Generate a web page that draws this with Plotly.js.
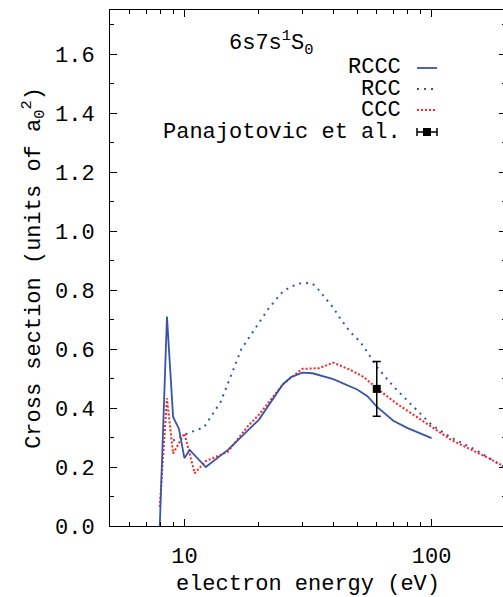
<!DOCTYPE html>
<html>
<head>
<meta charset="utf-8">
<script src="https://cdn.plot.ly/plotly-3.0.1.min.js"></script>
<style>
html,body{margin:0;padding:0;overflow:hidden;background:#fff;}
#chart{width:506px;height:597px;}
</style>
</head>
<body>
<div id="chart"></div>
<script>
// RCCC (solid blue)
const rcccE = [7.95, 8.5, 9.0, 9.5, 10.0, 10.5, 12.2, 15, 20, 25, 27, 30, 33, 40, 50, 55, 60, 70, 80, 100];
const rcccV = [0.0, 0.71, 0.37, 0.33, 0.23, 0.258, 0.20, 0.258, 0.36, 0.48, 0.505, 0.52, 0.518, 0.498, 0.463, 0.44, 0.405, 0.357, 0.332, 0.298];
// RCC (dotted blue)
const rccE = [9, 10, 12, 14, 17, 20, 22, 25, 27, 30, 33, 35, 40, 43, 47, 50, 53, 60, 70, 80, 100, 120, 150, 200];
const rccV = [0.29, 0.31, 0.335, 0.42, 0.60, 0.69, 0.74, 0.795, 0.812, 0.825, 0.822, 0.80, 0.74, 0.70, 0.657, 0.635, 0.61, 0.54, 0.474, 0.424, 0.343, 0.30, 0.259, 0.196];
// CCC (dotted red)
const cccE = [7.95, 8.5, 9.0, 10.0, 11.0, 12.2, 15, 18, 20, 25, 30, 35, 40, 47, 53, 60, 72, 100, 120, 170, 200];
const cccV = [0.065, 0.433, 0.246, 0.314, 0.179, 0.22, 0.252, 0.337, 0.377, 0.48, 0.533, 0.535, 0.554, 0.529, 0.506, 0.467, 0.416, 0.337, 0.292, 0.23, 0.198];
// Panajotovic et al. measurement
const expE = [60];
const expV = [0.465];
const expErr = [0.093];

const xTickVals = [10, 100];
const xTickText = ['10', '100'];
const xMinorVals = [5, 6, 7, 8, 9, 20, 30, 40, 50, 60, 70, 80, 90, 200];
const legendNames = ['RCCC', 'RCC', 'CCC', 'Panajotovic et al.'];

const blue = '#3855aa';
const red = '#ff2020';
const font = 'Liberation Mono, Courier New, monospace';
const fs = 22;

const traces = [
  {x: rccE, y: rccV, mode: 'lines', line: {color: blue, width: 2, dash: '2px,5px'}, showlegend: false},
  {x: cccE, y: cccV, mode: 'lines', line: {color: red, width: 2, dash: '2px,2px'}, showlegend: false},
  {x: rcccE, y: rcccV, mode: 'lines', line: {color: blue, width: 1.8}, showlegend: false},
  {x: expE, y: expV, mode: 'markers', marker: {color: '#000', size: 8, symbol: 'square'},
   error_y: {type: 'data', array: expErr, visible: true, color: '#000', thickness: 1.5, width: 4}, showlegend: false}
];

// legend geometry (pixels -> paper)
const L = 110, W = 396, B = 526, H = 516;
const px = v => (v - L) / W;
const py = v => (B - v) / H;
const rowsY = [68, 89, 110, 132];
const annotations = [
  {text: '6s7s<sup>1</sup>S<sub>0</sub>', xref: 'paper', yref: 'paper', x: px(227), y: py(43),
   xanchor: 'left', yanchor: 'middle', showarrow: false, font: {family: font, size: fs, color: '#000'}}
];
legendNames.forEach((n, i) => {
  annotations.push({text: n, xref: 'paper', yref: 'paper', x: px(403), y: py(rowsY[i]),
    xanchor: 'right', yanchor: 'middle', showarrow: false, font: {family: font, size: fs, color: '#000'}});
});
const shapes = [
  {type: 'line', xref: 'paper', yref: 'paper', x0: px(417), x1: px(437), y0: py(rowsY[0]), y1: py(rowsY[0]), line: {color: blue, width: 1.8}},
  {type: 'line', xref: 'paper', yref: 'paper', x0: px(417), x1: px(437), y0: py(rowsY[1]), y1: py(rowsY[1]), line: {color: blue, width: 2, dash: '2px,5px'}},
  {type: 'line', xref: 'paper', yref: 'paper', x0: px(417), x1: px(437), y0: py(rowsY[2]), y1: py(rowsY[2]), line: {color: red, width: 2, dash: '2px,2px'}},
  {type: 'line', xref: 'paper', yref: 'paper', x0: px(417), x1: px(437), y0: py(rowsY[3]), y1: py(rowsY[3]), line: {color: '#000', width: 1.5}},
  {type: 'line', xref: 'paper', yref: 'paper', x0: px(417), x1: px(417), y0: py(rowsY[3] - 4), y1: py(rowsY[3] + 4), line: {color: '#000', width: 1.5}},
  {type: 'line', xref: 'paper', yref: 'paper', x0: px(437), x1: px(437), y0: py(rowsY[3] - 4), y1: py(rowsY[3] + 4), line: {color: '#000', width: 1.5}},
  {type: 'rect', xref: 'paper', yref: 'paper', x0: px(423), x1: px(431), y0: py(rowsY[3] - 4), y1: py(rowsY[3] + 4), fillcolor: '#000', line: {width: 0}}
];

const layout = {
  width: 506, height: 597,
  margin: {l: 110, r: 0, t: 10, b: 71},
  paper_bgcolor: '#fff', plot_bgcolor: '#fff',
  font: {family: font, size: fs, color: '#000'},
  showlegend: false,
  xaxis: {
    type: 'log', range: [Math.log10(5), Math.log10(200)],
    tickmode: 'array', tickvals: xTickVals, ticktext: xTickText,
    ticks: 'inside', ticklen: 7, tickwidth: 1, tickcolor: '#000',
    minor: {tickmode: 'array', tickvals: xMinorVals, ticks: 'inside', ticklen: 4, tickcolor: '#000', showgrid: false},
    showline: true, linecolor: '#000', linewidth: 1, mirror: 'allticks',
    showgrid: false, zeroline: false, ticklabelstandoff: 10,
    tickfont: {family: font, size: fs},
    title: {text: 'electron energy (eV)', font: {family: font, size: fs}, standoff: 12},
    automargin: false
  },
  yaxis: {
    range: [0, 1.75], tickmode: 'linear', tick0: 0, dtick: 0.2, tickformat: '.1f',
    ticks: 'inside', ticklen: 7, tickwidth: 1, tickcolor: '#000',
    minor: {dtick: 0.1, ticks: 'inside', ticklen: 4, tickcolor: '#000', showgrid: false},
    showline: true, linecolor: '#000', linewidth: 1, mirror: 'allticks',
    showgrid: false, zeroline: false, ticklabelstandoff: 10,
    tickfont: {family: font, size: fs},
    title: {text: 'Cross section (units of a<sub>0</sub><sup>2</sup>)', font: {family: font, size: fs}, standoff: 8},
    automargin: false
  },
  annotations: annotations,
  shapes: shapes
};

Plotly.newPlot('chart', traces, layout, {staticPlot: true, displayModeBar: false});
</script>
</body>
</html>
